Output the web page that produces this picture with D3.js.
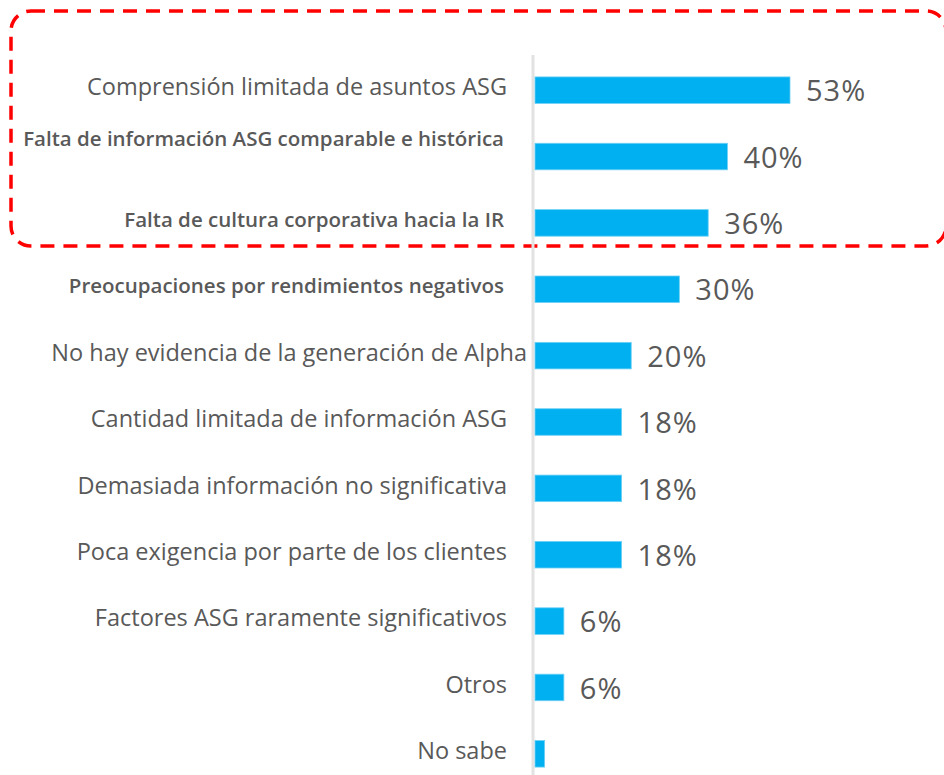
<!DOCTYPE html>
<html>
<head>
<meta charset="utf-8">
<script src="https://cdn.jsdelivr.net/npm/d3@7"></script>
<style>
  body { margin: 0; background: #fff; }
  svg { display: block; }
</style>
</head>
<body>
<svg width="944" height="775"></svg>
<script>
const categories = [
    'Comprensión limitada de asuntos ASG',
    'Falta de información ASG comparable e histórica',
    'Falta de cultura corporativa hacia la IR',
    'Preocupaciones por rendimientos negativos',
    'No hay evidencia de la generación de Alpha',
    'Cantidad limitada de información ASG',
    'Demasiada información no significativa',
    'Poca exigencia por parte de los clientes',
    'Factores ASG raramente significativos',
    'Otros',
    'No sabe'
];
const values = [53, 40, 36, 30, 20, 18, 18, 18, 6, 6, 2];
const valueLabels = ['53%', '40%', '36%', '30%', '20%', '18%', '18%', '18%', '6%', '6%', ''];

const svg = d3.select('svg');
const width = +svg.attr('width');
const height = +svg.attr('height');
const axisX = 534;

const x = d3.scaleLinear().domain([0, 53]).range([axisX, 789]);
const y = d3.scaleBand().domain(categories).range([57, 787]).paddingInner(0.6).paddingOuter(0.3);

// highlight box round the top three
svg.append('rect')
    .attr('x', 11).attr('y', 11)
    .attr('width', 935).attr('height', 235)
    .attr('rx', 20).attr('ry', 20)
    .attr('fill', 'none')
    .attr('stroke', '#ff0000')
    .attr('stroke-width', 3.5)
    .attr('stroke-dasharray', '14,9');

// vertical axis line
svg.append('line')
    .attr('x1', axisX - 1).attr('x2', axisX - 1)
    .attr('y1', 55).attr('y2', height)
    .attr('stroke', '#e2e2e2')
    .attr('stroke-width', 3);

svg.selectAll('rect.bar')
    .data(categories)
    .join('rect')
    .attr('class', 'bar')
    .attr('x', x(0) + 1)
    .attr('y', d => y(d))
    .attr('width', (d, i) => x(values[i]) - x(0))
    .attr('height', y.bandwidth())
    .attr('fill', '#00b0f0')
    .attr('stroke', '#6fd0f5')
    .attr('stroke-width', 0.8);

// the 2nd-4th labels are set smaller and bolder in the original
const small = d => [1, 2, 3].includes(categories.indexOf(d));
// the second one sits higher (it was a wrapped label)
const labelShift = d => d === categories[1] ? -18 : -3;
svg.selectAll('text.cat')
    .data(categories)
    .join('text')
    .attr('class', 'cat')
    .attr('x', d => d === categories[4] ? 527 : (small(d) ? 504 : 507))
    .attr('y', d => y(d) + y.bandwidth() / 2 + labelShift(d))
    .attr('dy', '0.35em')
    .attr('text-anchor', 'end')
    .style('font-family', '"Open Sans", sans-serif')
    .style('font-size', d => small(d) ? '20.5px' : '23.5px')
    .style('font-weight', d => small(d) ? 600 : 400)
    .style('fill', '#595959')
    .text(d => d);

svg.selectAll('text.val')
    .data(categories)
    .join('text')
    .attr('class', 'val')
    .attr('x', (d, i) => x(values[i]) + 17)
    .attr('y', d => y(d) + y.bandwidth() / 2 + 1)
    .attr('dy', '0.35em')
    .style('font-family', '"Open Sans", sans-serif')
    .style('font-size', '29px')
    .style('letter-spacing', '1px')
    .style('fill', '#595959')
    .text((d, i) => valueLabels[i]);
</script>
</body>
</html>
